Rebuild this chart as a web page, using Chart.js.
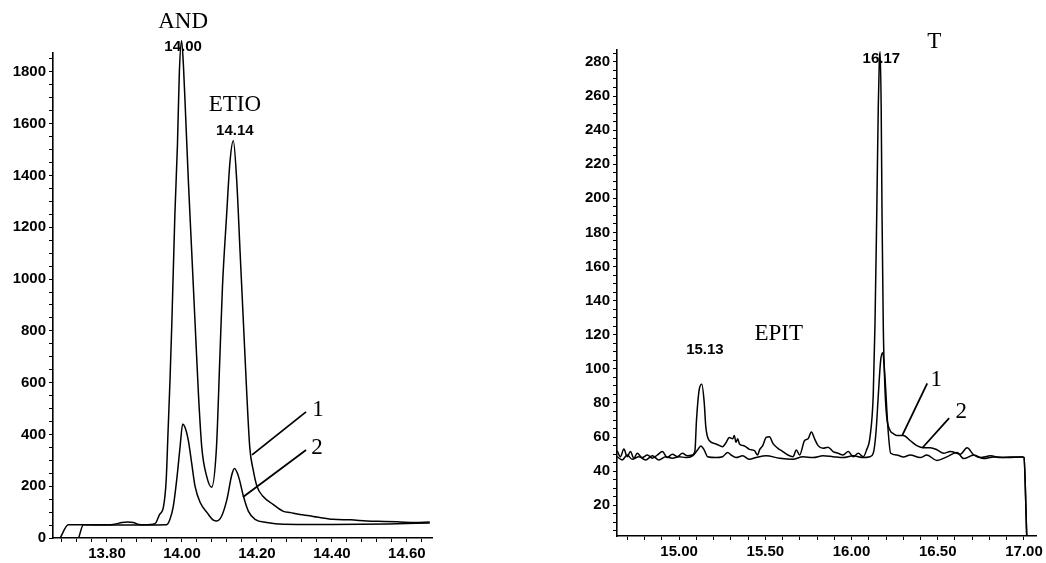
<!DOCTYPE html>
<html>
<head>
<meta charset="utf-8">
<script src="https://cdn.jsdelivr.net/npm/chart.js@4.4.1/dist/chart.umd.min.js"></script>
<style>
  body { margin: 0; background: #fff; }
  #wrapL { position: absolute; left: 0; top: 0; width: 470px; height: 563px; }
  #wrapR { position: absolute; left: 530px; top: 0; width: 516px; height: 563px; }
</style>
</head>
<body>
<div id="wrapL"><canvas id="left" width="470" height="563"></canvas></div>
<div id="wrapR"><canvas id="right" width="516" height="563"></canvas></div>
<script>
// left chromatogram (AND / ETIO), retention time in min vs abundance
const leftTime1 = [13.675, 13.697, 13.76, 13.80, 13.82, 13.84, 13.855, 13.87, 13.885, 13.90, 13.928, 13.94, 13.951, 13.958, 13.963,
  13.968, 13.973, 13.981, 13.988, 13.993, 13.999, 14.004, 14.009, 14.017, 14.026, 14.035, 14.044, 14.053, 14.066, 14.079,
  14.092, 14.101, 14.108, 14.119, 14.128, 14.137, 14.146, 14.155, 14.164, 14.173, 14.181, 14.19, 14.20, 14.216, 14.243,
  14.269, 14.29, 14.315, 14.34, 14.36, 14.403, 14.45, 14.493, 14.54, 14.581, 14.62, 14.661];
const leftSignal1 = [0, 51, 51, 51, 53, 60, 62, 60, 52, 51, 55, 90, 123, 225, 415,
  605, 829, 1244, 1520, 1796, 1920, 1823, 1658, 1382, 1106, 830, 555, 348, 238, 196,
  348, 693, 968, 1244, 1451, 1534, 1382, 1106, 830, 555, 348, 263, 200, 161, 130,
  104, 98, 91, 86, 81, 72, 70, 66, 64, 62, 60, 62];
const leftTime2 = [13.725, 13.737, 13.80, 13.90, 13.959, 13.968, 13.977, 13.986, 13.995, 14.002, 14.008, 14.017, 14.026, 14.035,
  14.049, 14.067, 14.085, 14.093, 14.106, 14.12, 14.133, 14.14, 14.151, 14.164, 14.177, 14.195, 14.226, 14.27, 14.40, 14.55, 14.661];
const leftSignal2 = [3, 51, 50, 50, 51, 72, 123, 225, 352, 440, 428, 377, 288, 199,
  136, 98, 68, 66, 85, 149, 244, 268, 237, 161, 104, 72, 60, 53, 52, 54, 58];

// right chromatogram (EPIT / T)
const rightTime1 = [14.641, 14.660, 14.680, 14.699, 14.718, 14.738, 14.757, 14.786, 14.816, 14.845, 14.874, 14.903, 14.932, 14.961,
  14.990, 15.019, 15.049, 15.078, 15.092, 15.101, 15.117, 15.132, 15.146, 15.155, 15.175, 15.214, 15.252, 15.272, 15.291,
  15.311, 15.32, 15.33, 15.34, 15.35, 15.379, 15.408, 15.437, 15.456, 15.466, 15.485, 15.505, 15.524, 15.544, 15.573,
  15.602, 15.631, 15.660, 15.680, 15.699, 15.728, 15.748, 15.767, 15.786, 15.806, 15.835, 15.864, 15.893, 15.922, 15.951,
  15.981, 16.010, 16.039, 16.068, 16.087, 16.107, 16.126, 16.136, 16.146, 16.155, 16.161, 16.166, 16.172, 16.177, 16.184,
  16.194, 16.204, 16.223, 16.243, 16.262, 16.301, 16.340, 16.379, 16.417, 16.456, 16.495, 16.534, 16.573, 16.631, 16.670,
  16.709, 16.748, 16.806, 16.864, 16.922, 16.990, 17.000, 17.016];
const rightSignal1 = [52, 48.5, 53, 48.5, 51.5, 47.6, 50.5, 48, 49.5, 47.6, 49.5, 51.5, 48, 50,
  48.5, 50.5, 49, 49.5, 52, 70, 88, 91, 80, 66, 58, 56, 54.4, 56.7, 59.8,
  59, 61, 57, 59, 56, 54.8, 52.8, 52, 49.5, 52.4, 55, 59.8, 60.2, 56.3, 53.4,
  51.5, 49.5, 48.5, 52.4, 49.5, 58, 59, 63, 59, 55, 53.4, 54, 51.5, 50.5, 49.5,
  51.5, 48.5, 50.5, 48.5, 52.4, 60, 85, 126, 189, 253, 280, 286, 253, 189, 126,
  88, 72, 64, 62, 61, 61, 58, 55, 53.7, 53.7, 52.6, 50.5, 51.6, 50, 53.7,
  49.5, 48, 49, 48, 48.4, 48.4, 48, 2];
const rightTime2 = [14.641, 14.670, 14.699, 14.728, 14.767, 14.806, 14.845, 14.883, 14.922, 14.961, 15.000, 15.039, 15.078, 15.107,
  15.126, 15.146, 15.165, 15.214, 15.252, 15.282, 15.301, 15.330, 15.369, 15.408, 15.447, 15.505, 15.583, 15.660, 15.718,
  15.777, 15.835, 15.893, 15.951, 16.010, 16.068, 16.107, 16.126, 16.142, 16.155, 16.169, 16.181, 16.194, 16.210, 16.227,
  16.262, 16.301, 16.340, 16.398, 16.437, 16.495, 16.553, 16.612, 16.650, 16.709, 16.767, 16.825, 16.903, 16.990, 17.000, 17.016];
const rightSignal2 = [48.5, 46.6, 49.5, 47, 48.5, 46.6, 49, 46.6, 48.5, 47.6, 48.5, 48, 49, 52.4,
  54.8, 52.4, 48.5, 48, 48.5, 51, 49.5, 48, 49, 47, 48, 49, 47.6, 47, 48.5,
  48, 49, 48.5, 48, 49, 48, 48.5, 50.5, 63, 84, 105, 109.5, 95, 67, 50.5,
  49.5, 48.4, 49.5, 48, 49.5, 46.3, 48.4, 51, 47.4, 49.5, 47.4, 48.4, 48, 48.4, 48, 2];

// tick labels
const leftXLabels = [13.80, 14.00, 14.20, 14.40, 14.60];
const leftYLabels = [0, 200, 400, 600, 800, 1000, 1200, 1400, 1600, 1800];
const rightXLabels = [15.00, 15.50, 16.00, 16.50, 17.00];
const rightYLabels = [20, 40, 60, 80, 100, 120, 140, 160, 180, 200, 220, 240, 260, 280];

// peak names, retention times and the curve numbers, placed in data units
const leftNoteText = ['AND', '14.00', 'ETIO', '14.14', '1', '2'];
const leftNoteX = [14.003, 14.003, 14.141, 14.141, 14.363, 14.36];
const leftNoteY = [1993, 1896, 1672, 1572, 494, 348];
const leftNoteSerif = [true, false, true, false, true, true];
const leftLeadFrom = [[14.331, 487], [14.331, 340]];
const leftLeadTo = [[14.187, 321], [14.163, 158]];

const rightNoteText = ['T', '16.17', '15.13', 'EPIT', '1', '2'];
const rightNoteX = [16.48, 16.173, 15.15, 15.578, 16.491, 16.636];
const rightNoteY = [291.5, 281.6, 111.4, 120.7, 93.3, 74.6];
const rightNoteSerif = [true, false, false, true, true, true];
const rightLeadFrom = [[16.439, 91.5], [16.566, 71.1]];
const rightLeadTo = [[16.295, 61.2], [16.410, 53.6]];

function pairs(xs, ys) {
  return xs.map((x, i) => ({ x: x, y: ys[i] }));
}

function withMinors(labels, step, lo, hi) {
  const out = [];
  for (let v = lo; v <= hi + 1e-9; v += step) out.push(Math.round(v * 1000) / 1000);
  labels.forEach(v => { if (!out.includes(v)) out.push(v); });
  return out.sort((a, b) => a - b);
}

const notesPlugin = {
  id: 'notes',
  afterDatasetsDraw(chart, args, opts) {
    const ctx = chart.ctx;
    const xs = chart.scales.x, ys = chart.scales.y;
    ctx.save();
    ctx.fillStyle = '#000';
    ctx.textAlign = 'center';
    ctx.textBaseline = 'middle';
    opts.text.forEach((t, i) => {
      ctx.font = opts.serif[i] ? '23px "Liberation Serif", "Times New Roman", serif'
                               : 'bold 15px "Liberation Sans", Arial, sans-serif';
      ctx.fillText(t, xs.getPixelForValue(opts.x[i]), ys.getPixelForValue(opts.y[i]));
    });
    ctx.strokeStyle = '#000';
    ctx.lineWidth = 1.8;
    opts.from.forEach((p, i) => {
      ctx.beginPath();
      ctx.moveTo(xs.getPixelForValue(p[0]), ys.getPixelForValue(p[1]));
      ctx.lineTo(xs.getPixelForValue(opts.to[i][0]), ys.getPixelForValue(opts.to[i][1]));
      ctx.stroke();
    });
    ctx.restore();
  }
};

const tickFont = { family: '"Liberation Sans", Arial, sans-serif', size: 15, weight: 'bold' };

function axis(min, max, tickList, labels, digits, size, isX) {
  return {
    type: 'linear',
    min: min,
    max: max,
    afterBuildTicks: s => { s.ticks = tickList.map(v => ({ value: v })); },
    afterFit: s => { if (isX) s.height = size; else s.width = size; },
    ticks: {
      autoSkip: false,
      maxRotation: 0,
      includeBounds: false,
      color: '#000',
      font: tickFont,
      padding: 3,
      callback: v => labels.some(l => Math.abs(l - v) < 1e-6) ? v.toFixed(digits) : ''
    },
    grid: { drawOnChartArea: false, drawTicks: true, tickLength: 4, color: '#000' },
    border: { display: true, color: '#000', width: 1.6 }
  };
}

function lineSet(data) {
  return {
    data: data,
    borderColor: '#000',
    borderWidth: 1.5,
    pointRadius: 0,
    fill: false,
    cubicInterpolationMode: 'monotone',
    clip: false
  };
}

new Chart(document.getElementById('left'), {
  type: 'line',
  data: {
    datasets: [lineSet(pairs(leftTime1, leftSignal1)), lineSet(pairs(leftTime2, leftSignal2))]
  },
  options: {
    responsive: false,
    animation: false,
    devicePixelRatio: 1,
    layout: { autoPadding: false, padding: { left: 0, top: 53, right: 38, bottom: 0 } },
    plugins: {
      legend: { display: false },
      tooltip: { enabled: false },
      notes: { text: leftNoteText, x: leftNoteX, y: leftNoteY, serif: leftNoteSerif, from: leftLeadFrom, to: leftLeadTo }
    },
    scales: {
      x: axis(13.656, 14.667, withMinors(leftXLabels, 0.04, 13.68, 14.64), leftXLabels, 2, 25, true),
      y: axis(0, 1873, withMinors(leftYLabels, 50, 0, 1850), leftYLabels, 0, 53, false)
    }
  },
  plugins: [notesPlugin]
});

new Chart(document.getElementById('right'), {
  type: 'line',
  data: {
    datasets: [lineSet(pairs(rightTime1, rightSignal1)), lineSet(pairs(rightTime2, rightSignal2))]
  },
  options: {
    responsive: false,
    animation: false,
    devicePixelRatio: 1,
    layout: { autoPadding: false, padding: { left: 0, top: 50, right: 9, bottom: 0 } },
    plugins: {
      legend: { display: false },
      tooltip: { enabled: false },
      notes: { text: rightNoteText, x: rightNoteX, y: rightNoteY, serif: rightNoteSerif, from: rightLeadFrom, to: rightLeadTo }
    },
    scales: {
      x: axis(14.64, 17.07, withMinors(rightXLabels, 0.1, 14.7, 17.0), rightXLabels, 2, 27, true),
      y: axis(2, 287, withMinors(rightYLabels, 5, 5, 285), rightYLabels, 0, 87, false)
    }
  },
  plugins: [notesPlugin]
});
</script>
</body>
</html>
